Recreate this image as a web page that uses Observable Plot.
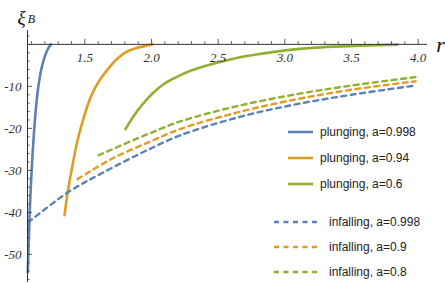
<!DOCTYPE html>
<html><head><meta charset="utf-8">
<script src="https://cdn.jsdelivr.net/npm/d3@7"></script>
<script src="https://cdn.jsdelivr.net/npm/@observablehq/plot@0.6"></script>
<style>
body{margin:0;background:#fff;}
#wrap{position:relative;width:445px;height:284px;overflow:hidden;}
.leg{position:absolute;height:16px;line-height:16px;font-family:"Liberation Sans",Arial,sans-serif;font-size:12px;color:#222;white-space:nowrap;}
.leg svg{position:absolute;top:0;}
.leg span{position:absolute;top:0;}
</style></head><body><div id="wrap"></div>
<script>
// ---- data ----
const plunge998R = [1.0722, 1.0775, 1.0858, 1.097, 1.1098, 1.1225, 1.1375, 1.1563, 1.1788, 1.205, 1.2275, 1.2463];
const plunge998V = [-54.3, -49.0, -40.7, -32.4, -25.2, -19.3, -13.8, -9.0, -5.2, -2.4, -0.83, 0];
const plunge94R = [1.3475, 1.3738, 1.4075, 1.445, 1.49, 1.535, 1.58, 1.625, 1.6775, 1.7375, 1.805, 1.88, 1.955, 2.0075];
const plunge94V = [-40.7, -34.8, -28.8, -22.9, -17.6, -13.3, -10.2, -7.9, -5.7, -3.6, -1.9, -0.95, -0.36, 0];
const plunge6R = [1.805, 1.865, 1.9325, 2.0075, 2.09, 2.18, 2.2925, 2.4425, 2.63, 2.8175, 3.005, 3.2675, 3.5675, 3.845];
const plunge6V = [-20.2, -17.1, -14.3, -11.7, -9.5, -7.9, -6.3, -4.8, -3.3, -2.26, -1.43, -0.71, -0.31, -0.07];
const infall998R = [1.075, 1.37, 1.62, 2.0, 2.22, 2.67, 3.08, 3.5, 3.98];
const infall998V = [-42.4, -35.3, -30.8, -24.7, -21.6, -17.2, -14.3, -12.0, -9.8];
const infall9R = [1.445, 1.7, 2.0, 2.22, 2.67, 3.1, 3.5, 3.98];
const infall9V = [-32.1, -27.3, -23.0, -20.1, -16.0, -13.0, -10.8, -8.8];
const infall8R = [1.6025, 2.0, 2.22, 2.67, 3.1, 3.5, 3.98];
const infall8V = [-26.4, -21.0, -18.3, -14.5, -11.8, -9.8, -7.8];

const seriesNames = ["plunging, a=0.998", "plunging, a=0.94", "plunging, a=0.6",
                     "infalling, a=0.998", "infalling, a=0.9", "infalling, a=0.8"];
const seriesColors = ["#5E81B5", "#E19C24", "#8FB032", "#5E81B5", "#E19C24", "#8FB032"];
const seriesDashed = [false, false, false, true, true, true];

const xMajor = [1.5, 2.0, 2.5, 3.0, 3.5, 4.0];
const xMinor = d3.range(11, 41).map(i => i / 10).filter(v => !xMajor.some(m => Math.abs(m - v) < 1e-9));
const yMajor = [-10, -20, -30, -40, -50];
const yMinor = [2, -2, -4, -6, -8, -12, -14, -16, -18, -22, -24, -26, -28, -32, -34, -36, -38, -42, -44, -46, -48, -52, -54, -56];

// ---- build tables ----
const pairs = [[plunge998R, plunge998V], [plunge94R, plunge94V], [plunge6R, plunge6V],
               [infall998R, infall998V], [infall9R, infall9V], [infall8R, infall8V]];
const series = pairs.map(([R, V], k) => R.map((r, i) => ({r, v: V[i], k})));

const W = 445, H = 284, mL = 27, mR = 18, mT = 30, mB = 2;
const xDom = [1.07, 4.07], yDom = [-56.7, 3.3];
const pxY = (H - mT - mB) / (yDom[1] - yDom[0]);
const pxX = (W - mL - mR) / (xDom[1] - xDom[0]);
const axisColor = "#333";
const serif = "'Liberation Serif','Times New Roman',serif";

const marks = [];
series.forEach((data, k) => {
  marks.push(Plot.line(data, {x: "r", y: "v", stroke: seriesColors[k], strokeWidth: seriesDashed[k] ? 2.4 : 2.6,
    strokeDasharray: seriesDashed[k] ? "5,4.5" : null, curve: "catmull-rom"}));
});
// axes lines
marks.push(Plot.ruleY([0], {x1: xDom[0], x2: xDom[1], stroke: axisColor, strokeWidth: 1}));
marks.push(Plot.ruleX([xDom[0]], {y1: yDom[0], y2: yDom[1], stroke: axisColor, strokeWidth: 1}));
// x ticks (upwards)
marks.push(Plot.ruleX(xMinor, {x: d => d, y1: 0, y2: 2.6 / pxY, stroke: axisColor, strokeWidth: 0.8}));
marks.push(Plot.ruleX(xMajor, {x: d => d, y1: 0, y2: 5 / pxY, stroke: axisColor, strokeWidth: 0.8}));
// y ticks (rightwards)
marks.push(Plot.ruleY(yMinor, {y: d => d, x1: xDom[0], x2: xDom[0] + 2.6 / pxX, stroke: axisColor, strokeWidth: 0.8}));
marks.push(Plot.ruleY(yMajor, {y: d => d, x1: xDom[0], x2: xDom[0] + 5 / pxX, stroke: axisColor, strokeWidth: 0.8}));
// tick labels
marks.push(Plot.text(xMajor, {x: d => d, y: 0, text: d => d.toFixed(1), dy: 13.5, fontSize: 13,
  fontStyle: "italic", fontFamily: serif, fill: "#333"}));
marks.push(Plot.text(yMajor, {x: xDom[0], y: d => d, text: d => String(d), dx: -6, textAnchor: "end",
  fontSize: 13, fontStyle: "italic", fontFamily: serif, fill: "#333"}));
// axis labels
marks.push(Plot.text(["r"], {x: xDom[1], y: 0, text: d => d, dx: 13, dy: 1, fontSize: 22,
  fontStyle: "italic", fontFamily: serif, fill: "#111"}));
marks.push(Plot.text(["ξ"], {x: xDom[0], y: yDom[1], text: d => d, dx: -6, dy: -13, fontSize: 19,
  fontStyle: "italic", fontFamily: serif, fill: "#111"}));
marks.push(Plot.text(["B"], {x: xDom[0], y: yDom[1], text: d => d, dx: 4, dy: -11, fontSize: 12,
  fontStyle: "italic", fontFamily: serif, fill: "#111"}));

const chart = Plot.plot({
  width: W, height: H, marginLeft: mL, marginRight: mR, marginTop: mT, marginBottom: mB,
  x: {domain: xDom, axis: null},
  y: {domain: yDom, axis: null},
  style: {background: "white", overflow: "visible"},
  marks
});
const wrap = document.getElementById("wrap");
wrap.appendChild(chart);

// legend overlay
const legendRows = [
  {k: 0, y: 132, x1: 288, x2: 313, tx: 320},
  {k: 1, y: 158, x1: 288, x2: 313, tx: 320},
  {k: 2, y: 184, x1: 288, x2: 313, tx: 320},
  {k: 3, y: 222, x1: 274, x2: 319, tx: 329},
  {k: 4, y: 247, x1: 274, x2: 319, tx: 329},
  {k: 5, y: 272, x1: 274, x2: 319, tx: 329}
];
legendRows.forEach(row => {
  const d = document.createElement("div");
  d.className = "leg";
  d.style.left = row.x1 + "px";
  d.style.top = (row.y - 8) + "px";
  const w = row.x2 - row.x1;
  const dash = seriesDashed[row.k] ? `stroke-dasharray="5,4.5"` : "";
  d.innerHTML = `<svg width="${w}" height="16" style="left:0"><line x1="0" x2="${w}" y1="8" y2="8" stroke="${seriesColors[row.k]}" stroke-width="2.6" ${dash}/></svg><span style="left:${row.tx - row.x1}px">${seriesNames[row.k]}</span>`;
  wrap.appendChild(d);
});
</script></body></html>
